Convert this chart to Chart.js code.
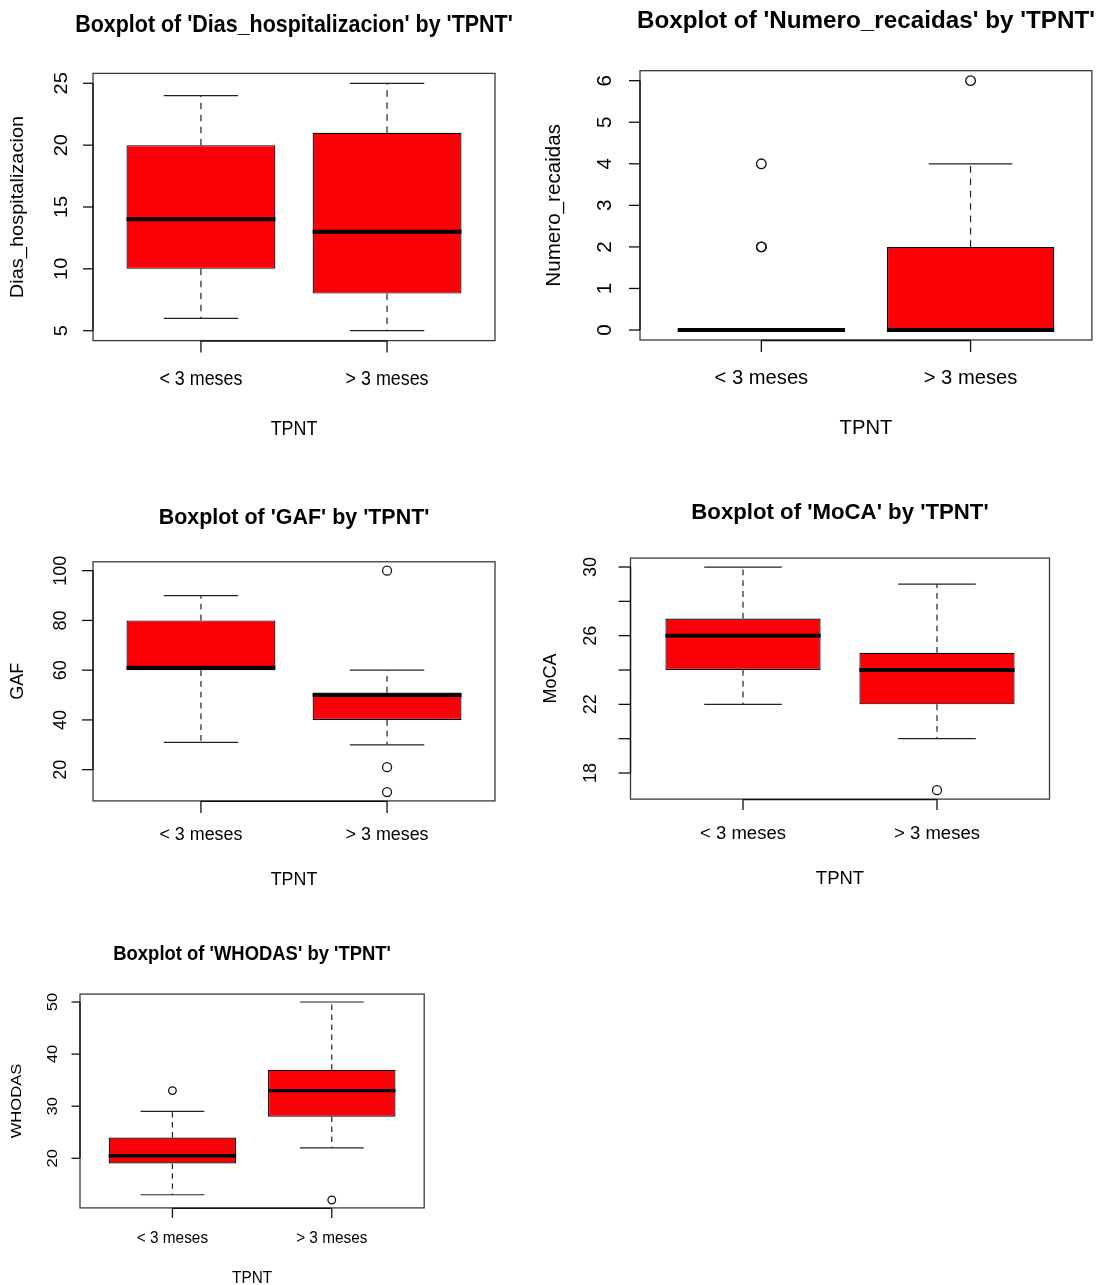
<!DOCTYPE html>
<html>
<head>
<meta charset="utf-8">
<script src="https://cdn.jsdelivr.net/npm/chart.js@4.4.1/dist/chart.umd.min.js"></script>
<style>
  html, body { margin: 0; padding: 0; background: #fff; }
  #page { position: relative; width: 1098px; height: 1285px; overflow: hidden; }
  #page canvas { position: absolute; }
</style>
</head>
<body>
<div id="page"></div>
<script>
const groups = ["< 3 meses", "> 3 meses"];
const xTitle = "TPNT";

// [lower whisker, Q1, median, Q3, upper whisker] per group
const diasStats = [[6, 10, 14, 20, 24], [5, 8, 13, 21, 25]];
const diasOutliers = [[], []];
const diasTicks = [5, 10, 15, 20, 25];
const diasTickLabels = ["5", "10", "15", "20", "25"];

const recaidasStats = [[0, 0, 0, 0, 0], [0, 0, 0, 2, 4]];
const recaidasOutliers = [[2, 2, 4], [6]];
const recaidasTicks = [0, 1, 2, 3, 4, 5, 6];
const recaidasTickLabels = ["0", "1", "2", "3", "4", "5", "6"];

const gafStats = [[31, 60, 61, 80, 90], [30, 40, 50, 51, 60]];
const gafOutliers = [[], [100, 21, 11]];
const gafTicks = [20, 40, 60, 80, 100];
const gafTickLabels = ["20", "40", "60", "80", "100"];

const mocaStats = [[22, 24, 26, 27, 30], [20, 22, 24, 25, 29]];
const mocaOutliers = [[], [17]];
const mocaTicks = [18, 20, 22, 24, 26, 28, 30];
const mocaTickLabels = ["18", "", "22", "", "26", "", "30"];

const whodasStats = [[13, 19, 20.5, 24, 29], [22, 28, 33, 37, 50]];
const whodasOutliers = [[33], [12]];
const whodasTicks = [20, 30, 40, 50];
const whodasTickLabels = ["20", "30", "40", "50"];

const FONT = '"Liberation Sans", Arial, Helvetica, sans-serif';
const BOX_RED = "#fb0007";

// panel layout (page pixels); sx / sy = text stretch of each pasted panel
const panels = [
  {
    title: "Boxplot of 'Dias_hospitalizacion' by 'TPNT'", ylab: "Dias_hospitalizacion",
    stats: diasStats, outliers: diasOutliers, ticks: diasTicks, tickLabels: diasTickLabels,
    area: { x: 0, y: 0, w: 549, h: 460 }, frame: { l: 93, t: 73.4, r: 495, b: 340.6 },
    sx: 0.894, sy: 1.0, yLabX: 62, yTitleX: 18, xLabY: 379, xTitleY: 429, titleY: 25,
    yTick: 10, xTick: 12, radius: 4.6, medW: 4
  },
  {
    title: "Boxplot of 'Numero_recaidas' by 'TPNT'", ylab: "Numero_recaidas",
    stats: recaidasStats, outliers: recaidasOutliers, ticks: recaidasTicks, tickLabels: recaidasTickLabels,
    area: { x: 530, y: 0, w: 568, h: 460 }, frame: { l: 640, t: 70.7, r: 1094, b: 340 },
    sx: 1.01, sy: 1.03, yLabX: 605, yTitleX: 554, xLabY: 378, xTitleY: 428, titleY: 21,
    yTick: 11, xTick: 12, radius: 4.8, medW: 4
  },
  {
    title: "Boxplot of 'GAF' by 'TPNT'", ylab: "GAF",
    stats: gafStats, outliers: gafOutliers, ticks: gafTicks, tickLabels: gafTickLabels,
    area: { x: 0, y: 470, w: 549, h: 440 }, frame: { l: 93, t: 561.8, r: 495, b: 800.9 },
    sx: 0.894, sy: 0.9, yLabX: 61.5, yTitleX: 18.3, xLabY: 835, xTitleY: 880, titleY: 518,
    yTick: 11, xTick: 12, radius: 4.5, medW: 3.8
  },
  {
    title: "Boxplot of 'MoCA' by 'TPNT'", ylab: "MoCA",
    stats: mocaStats, outliers: mocaOutliers, ticks: mocaTicks, tickLabels: mocaTickLabels,
    area: { x: 530, y: 470, w: 568, h: 440 }, frame: { l: 630.5, t: 558.1, r: 1049.5, b: 799.1 },
    sx: 0.925, sy: 0.9, yLabX: 591, yTitleX: 551, xLabY: 834, xTitleY: 879.5, titleY: 513,
    yTick: 12, xTick: 11, radius: 4.5, medW: 3.8
  },
  {
    title: "Boxplot of 'WHODAS' by 'TPNT'", ylab: "WHODAS",
    stats: whodasStats, outliers: whodasOutliers, ticks: whodasTicks, tickLabels: whodasTickLabels,
    area: { x: 0, y: 915, w: 549, h: 370 }, frame: { l: 80, t: 994.1, r: 424.2, b: 1207.9 },
    sx: 0.768, sy: 0.83, yLabX: 52.5, yTitleX: 16.7, xLabY: 1238.5, xTitleY: 1278, titleY: 955,
    yTick: 8.5, xTick: 10, radius: 3.8, medW: 3.4
  }
];

function drawText(ctx, str, x, y, size, bold, sx, sy, rotated) {
  ctx.save();
  ctx.translate(x, y);
  if (rotated) {
    ctx.rotate(-Math.PI / 2);
    ctx.scale(sy, sx);
  } else {
    ctx.scale(sx, sy);
  }
  ctx.font = (bold ? "bold " : "") + size + "px " + FONT;
  ctx.fillStyle = "#000";
  ctx.textAlign = "center";
  ctx.textBaseline = "middle";
  ctx.fillText(str, 0, 0);
  ctx.restore();
}

function line(ctx, x1, y1, x2, y2) {
  ctx.beginPath();
  ctx.moveTo(x1, y1);
  ctx.lineTo(x2, y2);
  ctx.stroke();
}

// R-style whiskers, medians, frame and axes, placed through the chart scales
function rBoxplot(p) {
  return {
    id: "rBoxplot",
    beforeDatasetsDraw(chart) {
      const ctx = chart.ctx;
      const ys = chart.scales.y;
      const bars = chart.getDatasetMeta(0).data;
      ctx.save();
      ctx.strokeStyle = "#222";
      ctx.lineWidth = 1.2;
      bars.forEach((bar, i) => {
        const s = p.stats[i];
        const { x, width } = bar.getProps(["x", "width"], true);
        ctx.setLineDash([6.5 * p.sy, 5.5 * p.sy]);
        line(ctx, x, ys.getPixelForValue(s[3]), x, ys.getPixelForValue(s[4]));
        line(ctx, x, ys.getPixelForValue(s[1]), x, ys.getPixelForValue(s[0]));
        ctx.setLineDash([]);
        line(ctx, x - width / 4, ys.getPixelForValue(s[4]), x + width / 4, ys.getPixelForValue(s[4]));
        line(ctx, x - width / 4, ys.getPixelForValue(s[0]), x + width / 4, ys.getPixelForValue(s[0]));
      });
      ctx.restore();
    },
    afterDatasetsDraw(chart) {
      const ctx = chart.ctx;
      const ys = chart.scales.y;
      const bars = chart.getDatasetMeta(0).data;
      ctx.save();
      ctx.strokeStyle = "#000";
      ctx.lineWidth = p.medW;
      ctx.lineCap = "butt";
      bars.forEach((bar, i) => {
        const { x, width } = bar.getProps(["x", "width"], true);
        const y = ys.getPixelForValue(p.stats[i][2]);
        line(ctx, x - width / 2, y, x + width / 2, y);
      });
      ctx.restore();
    },
    afterDraw(chart) {
      const ctx = chart.ctx;
      const ca = chart.chartArea;
      const xs = chart.scales.x;
      const ys = chart.scales.y;
      const ox = p.area.x;
      const oy = p.area.y;

      ctx.save();
      ctx.strokeStyle = "#3a3a3a";
      ctx.lineWidth = 1.3;
      ctx.strokeRect(ca.left, ca.top, ca.right - ca.left, ca.bottom - ca.top);

      ctx.strokeStyle = "#111";
      ctx.lineWidth = 1.3;
      const yTop = ys.getPixelForValue(p.ticks[p.ticks.length - 1]);
      const yBot = ys.getPixelForValue(p.ticks[0]);
      line(ctx, ca.left, yTop, ca.left, yBot);
      p.ticks.forEach(v => {
        const y = ys.getPixelForValue(v);
        line(ctx, ca.left - p.yTick, y, ca.left, y);
      });
      const x1 = xs.getPixelForValue(1);
      const x2 = xs.getPixelForValue(groups.length);
      line(ctx, x1, ca.bottom + 0.5, x2, ca.bottom + 0.5);
      groups.forEach((g, i) => {
        const x = xs.getPixelForValue(i + 1);
        line(ctx, x, ca.bottom, x, ca.bottom + p.xTick);
      });
      ctx.restore();

      p.ticks.forEach((v, i) => {
        if (p.tickLabels[i]) {
          drawText(ctx, p.tickLabels[i], p.yLabX - ox, ys.getPixelForValue(v), 20, false, p.sx, p.sy, true);
        }
      });
      drawText(ctx, p.ylab, p.yTitleX - ox, (ca.top + ca.bottom) / 2, 20, false, p.sx, p.sy, true);
      groups.forEach((g, i) => {
        drawText(ctx, g, xs.getPixelForValue(i + 1), p.xLabY - oy, 20, false, p.sx, p.sy, false);
      });
      drawText(ctx, xTitle, (ca.left + ca.right) / 2, p.xTitleY - oy, 20, false, p.sx, p.sy, false);
      drawText(ctx, p.title, (ca.left + ca.right) / 2, p.titleY - oy, 24, true, p.sx, p.sy, false);
    }
  };
}

const page = document.getElementById("page");

panels.forEach(p => {
  const canvas = document.createElement("canvas");
  canvas.width = p.area.w;
  canvas.height = p.area.h;
  canvas.style.left = p.area.x + "px";
  canvas.style.top = p.area.y + "px";
  canvas.style.width = p.area.w + "px";
  canvas.style.height = p.area.h + "px";
  page.appendChild(canvas);

  const all = p.stats.flat().concat(p.outliers.flat());
  const lo = Math.min(...all);
  const hi = Math.max(...all);
  const pad = (hi - lo) * 0.04;

  new Chart(canvas.getContext("2d"), {
    type: "bar",
    data: {
      datasets: [
        {
          type: "bar",
          data: p.stats.map((s, i) => ({ x: i + 1, y: [s[1], s[3]] })),
          backgroundColor: BOX_RED,
          borderColor: "#000",
          borderWidth: 1.2,
          borderSkipped: false,
          categoryPercentage: 0.8,
          barPercentage: 1.0
        },
        {
          type: "scatter",
          data: p.outliers.flatMap((arr, i) => arr.map(v => ({ x: i + 1, y: v }))),
          pointRadius: p.radius,
          pointBorderWidth: 1.3,
          pointBorderColor: "#111",
          pointBackgroundColor: "rgba(0,0,0,0)",
          borderColor: "#111",
          backgroundColor: "rgba(0,0,0,0)"
        }
      ]
    },
    options: {
      responsive: false,
      animation: false,
      devicePixelRatio: 1,
      events: [],
      layout: {
        padding: {
          left: p.frame.l - p.area.x,
          top: p.frame.t - p.area.y,
          right: p.area.x + p.area.w - p.frame.r,
          bottom: p.area.y + p.area.h - p.frame.b
        }
      },
      plugins: { legend: { display: false }, tooltip: { enabled: false } },
      scales: {
        x: {
          type: "linear",
          display: false,
          offset: false,
          min: 0.5 - 0.04 * groups.length,
          max: groups.length + 0.5 + 0.04 * groups.length,
          afterBuildTicks: scale => {
            scale.ticks = groups.map((g, i) => ({ value: i + 1 }));
          }
        },
        y: {
          type: "linear",
          display: false,
          beginAtZero: false,
          min: lo - pad,
          max: hi + pad
        }
      }
    },
    plugins: [rBoxplot(p)]
  });
});
</script>
</body>
</html>
